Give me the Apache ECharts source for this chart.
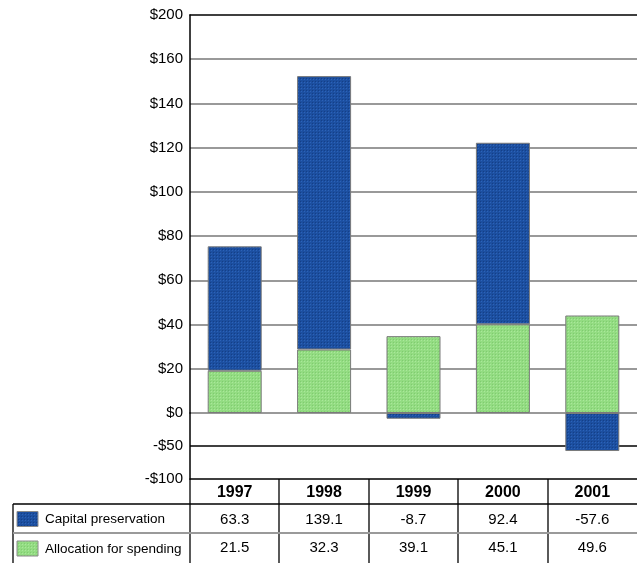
<!DOCTYPE html>
<html>
<head>
<meta charset="utf-8">
<script src="https://cdn.jsdelivr.net/npm/echarts@6/dist/echarts.min.js"></script>
<style>
  html, body { margin: 0; padding: 0; background: #fff; }
  #chart { width: 637px; height: 563px; }
</style>
</head>
<body>
<div id="chart"></div>
<script>
// Yearly figures (in $ millions)
const years = ['1997', '1998', '1999', '2000', '2001'];
const capitalPreservation = [63.3, 139.1, -8.7, 92.4, -57.6];
const allocationForSpending = [21.5, 32.3, 39.1, 45.1, 49.6];
const seriesNames = ['Capital preservation', 'Allocation for spending'];

// Axis tick texts, bottom to top (upper panel) and for the negative panel
const upperTickLabels = ['$0', '$20', '$40', '$60', '$80', '$100', '$120', '$140', '$160', '$200'];
const lowerTickLabels = ['-$50', '-$100'];

// Layout
const W = 637, H = 563;
const plotLeft = 190, plotTop = 15, zeroY = 413, tableTop = 479;
const rowLine1 = 504, rowLine2 = 533;
const colW = (W - plotLeft) / years.length;
const upperInterval = 22.5;
const upperMax = upperInterval * (upperTickLabels.length - 1);

const FONT = "'Liberation Sans', Arial, sans-serif";

// Small halftone-style tile used to fill the bars and swatches
function dotPattern(base, light, dark) {
  const c = document.createElement('canvas');
  c.width = 3; c.height = 3;
  const g = c.getContext('2d');
  g.fillStyle = base; g.fillRect(0, 0, 3, 3);
  g.fillStyle = light; g.fillRect(1, 1, 1, 1);
  g.fillStyle = dark; g.fillRect(0, 0, 1, 1);
  return { image: c, repeat: 'repeat' };
}
const blueFill = dotPattern('#1c4fa0', '#2b62b8', '#143f87');
const greenFill = dotPattern('#93dc82', '#a9e89a', '#80cc70');
const fills = [blueFill, greenFill];

const capPos = capitalPreservation.map(v => (v > 0 ? v : null));
const capNeg = capitalPreservation.map(v => (v < 0 ? v : null));

const barStyle = (fill) => ({ color: fill, borderColor: '#7a7a7a', borderWidth: 1 });

// Data table under the plot
const graphics = [];
const blackLine = (x1, y1, x2, y2, w) => ({
  type: 'line', silent: true, z: 10,
  shape: { x1, y1, x2, y2 },
  style: { stroke: '#000', lineWidth: w || 1.3 }
});
for (let i = 0; i <= years.length; i++) {
  const x = Math.round(plotLeft + i * colW);
  if (x < W) graphics.push(blackLine(x, tableTop, x, H));
}
graphics.push(blackLine(13, rowLine1, W, rowLine1));
graphics.push(blackLine(13, rowLine1, 13, H));
graphics.push({
  type: 'line', silent: true, z: 10,
  shape: { x1: 13, y1: rowLine2, x2: W, y2: rowLine2 },
  style: { stroke: '#9a9a9a', lineWidth: 2 }
});

const cellText = (text, x, y, bold, align, size) => ({
  type: 'text', silent: true, z: 11,
  x, y,
  style: {
    text, fill: '#000',
    fontFamily: FONT, fontSize: size || 15, fontWeight: bold ? 'bold' : 'normal',
    align: align || 'center', verticalAlign: 'middle'
  }
});

years.forEach((y, i) => {
  const cx = plotLeft + (i + 0.5) * colW;
  graphics.push(cellText(y, cx, (tableTop + rowLine1) / 2 + 1, true, 'center', 16));
  graphics.push(cellText(String(capitalPreservation[i]), cx, (rowLine1 + rowLine2) / 2 + 1));
  graphics.push(cellText(String(allocationForSpending[i]), cx, (rowLine2 + H) / 2));
});

const rowCenters = [(rowLine1 + rowLine2) / 2, (rowLine2 + H) / 2];
seriesNames.forEach((name, r) => {
  graphics.push({
    type: 'rect', silent: true, z: 11,
    shape: { x: 17, y: rowCenters[r] - 7, width: 21, height: 15 },
    style: { fill: fills[r], stroke: '#8a8a8a', lineWidth: 1 }
  });
  graphics.push(cellText(name, 45, rowCenters[r] + 1, false, 'left', 13.5));
});

const chart = echarts.init(document.getElementById('chart'), null, { renderer: 'canvas' });

chart.setOption({
  animation: false,
  backgroundColor: '#fff',
  grid: [
    { left: plotLeft, right: 0, top: plotTop, height: zeroY - plotTop, containLabel: false },
    { left: plotLeft, right: 0, top: zeroY, height: tableTop - zeroY, containLabel: false }
  ],
  xAxis: [
    {
      gridIndex: 0, type: 'category', data: years, position: 'top',
      axisLine: { show: true, onZero: false, lineStyle: { color: '#000', width: 1.5 } },
      axisTick: { show: false }, axisLabel: { show: false }, splitLine: { show: false }
    },
    {
      gridIndex: 1, type: 'category', data: years, position: 'bottom',
      axisLine: { show: true, onZero: false, lineStyle: { color: '#000', width: 1.5 } },
      axisTick: { show: false }, axisLabel: { show: false }, splitLine: { show: false }
    }
  ],
  yAxis: [
    {
      gridIndex: 0, type: 'value', min: 0, max: upperMax, interval: upperInterval,
      axisLine: { show: true, lineStyle: { color: '#000', width: 1.5 } },
      axisTick: { show: false },
      axisLabel: {
        color: '#000', fontFamily: FONT, fontSize: 15, margin: 7,
        formatter: v => upperTickLabels[Math.round(v / upperInterval)] || ''
      },
      splitLine: { show: true, showMaxLine: false, lineStyle: { color: '#999', width: 2 } }
    },
    {
      gridIndex: 1, type: 'value', min: -100, max: 0, interval: 50,
      axisLine: { show: true, lineStyle: { color: '#000', width: 1.5 } },
      axisTick: { show: false },
      axisLabel: {
        color: '#000', fontFamily: FONT, fontSize: 15, margin: 7,
        formatter: v => (v === 0 ? '' : lowerTickLabels[Math.round(-v / 50) - 1])
      },
      splitLine: { show: true, showMaxLine: false, showMinLine: false, lineStyle: { color: '#000', width: 1.5 } }
    }
  ],
  series: [
    {
      name: seriesNames[1], type: 'bar', xAxisIndex: 0, yAxisIndex: 0, stack: 'pos',
      barWidth: 54, data: allocationForSpending, itemStyle: barStyle(greenFill), z: 3
    },
    {
      name: seriesNames[0], type: 'bar', xAxisIndex: 0, yAxisIndex: 0, stack: 'pos',
      barWidth: 54, data: capPos, itemStyle: barStyle(blueFill), z: 3
    },
    {
      name: seriesNames[0], type: 'bar', xAxisIndex: 1, yAxisIndex: 1,
      barWidth: 54, data: capNeg, itemStyle: barStyle(blueFill), z: 3
    }
  ],
  graphic: graphics
});
</script>
</body>
</html>
